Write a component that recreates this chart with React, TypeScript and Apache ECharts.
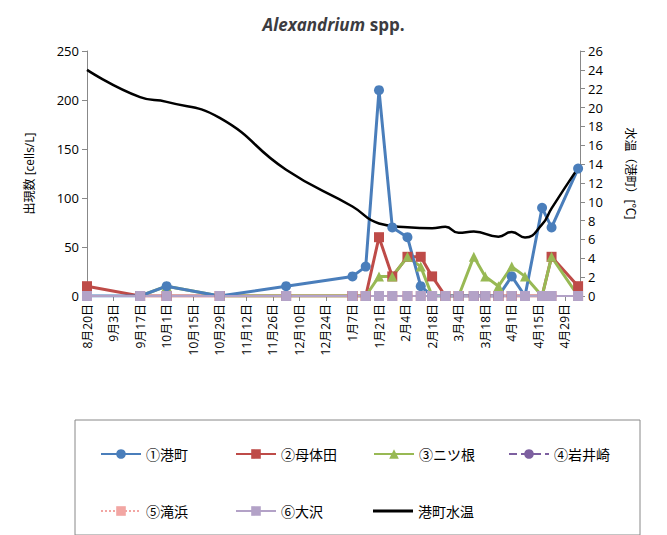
import { useEffect, useRef } from 'react'
import * as echarts from 'echarts'

// day offsets from 8/20 (sampling dates)
const DAYS = [0, 28, 42, 70, 105, 140, 147, 154, 161, 169, 176, 182, 189, 196, 204, 210, 217, 224, 231, 240, 245, 259]
const MINATOMACHI = [0, 0, 10, 0, 10, 20, 30, 210, 70, 60, 10, 0, 0, 0, 0, 0, 0, 20, 0, 90, 70, 130]
const BOTAIDA = [10, 0, 0, 0, 0, 0, 0, 60, 20, 40, 40, 20, 0, 0, 0, 0, 0, 0, 0, 0, 40, 10]
const FUTATSUNE = [null, 0, 10, 0, 0, 0, 0, 20, 20, 40, 30, 0, 0, 0, 40, 20, 10, 30, 20, 0, 40, 0]
const ZEROS = DAYS.map(() => 0)
const TEMP_DAYS = [0, 28, 42, 70, 105, 140, 154, 169, 182, 189, 196, 204, 217, 224, 231, 240, 245, 259]
const TEMP = [24.0, 21.1, 20.6, 18.9, 13.4, 9.5, 7.7, 7.3, 7.2, 7.35, 6.7, 6.85, 6.3, 6.8, 6.2, 7.6, 9.3, 13.6]

const pair = (ys: (number | null)[], xs = DAYS) => xs.map((d, i) => [d, ys[i]])

const FONT = '"Open Sans", "Noto Sans CJK JP", sans-serif'

export default function App() {
  const ref = useRef<HTMLDivElement>(null)
  useEffect(() => {
    if (!ref.current) return
    const chart = echarts.init(ref.current, undefined, { renderer: 'svg' })
    const base = new Date(2012, 7, 20)
    const fmt = (v: number) => {
      const d = new Date(base.getTime()); d.setDate(d.getDate() + v)
      return (d.getMonth() + 1) + '月' + d.getDate() + '日'
    }
    const line = (name: string, data: any[], color: string, symbol: string, extra: any = {}) => ({
      name, type: 'line', data, symbol, symbolSize: 10, connectNulls: false,
      lineStyle: { color, width: 3 }, itemStyle: { color }, ...extra,
    })
    const legendItem = (name: any, left: number, top: number) => ({
      data: [name], left, top, itemWidth: 40, itemHeight: 12,
      textStyle: { fontSize: 14, fontFamily: FONT, color: '#000' },
    })
    chart.setOption({
      animation: false,
      textStyle: { fontFamily: FONT },
      title: {
        text: '{i|Alexandrium} {b|spp.}', left: 'center', top: 2,
        textStyle: { rich: {
          i: { fontStyle: 'italic', fontWeight: 'bold', fontSize: 17, fontFamily: FONT },
          b: { fontWeight: 'bold', fontSize: 17, fontFamily: FONT },
        } },
      },
      grid: { left: 79, right: 79, top: 43, bottom: 239 },
      xAxis: {
        type: 'value', min: 0, max: 260, interval: 14,
        axisLine: { lineStyle: { color: '#888' } },
        axisTick: { show: true, lineStyle: { color: '#888' } },
        splitLine: { show: false },
        axisLabel: { rotate: 90, formatter: fmt, showMaxLabel: false, fontSize: 12, color: '#000' },
      },
      yAxis: [
        {
          type: 'value', min: 0, max: 250, interval: 50,
          name: '出現数 [cells/L]', nameLocation: 'middle', nameGap: 52, nameRotate: 90,
          nameTextStyle: { fontSize: 12, color: '#000' },
          axisLine: { show: true, lineStyle: { color: '#888' } },
          axisTick: { show: true, lineStyle: { color: '#888' } },
          splitLine: { show: false },
          axisLabel: { fontSize: 13, color: '#000' },
        },
        {
          type: 'value', min: 0, max: 26, interval: 2,
          name: '水温（港町）[℃]', nameLocation: 'middle', nameGap: 44, nameRotate: -90,
          nameTextStyle: { fontSize: 12, color: '#000' },
          axisLine: { show: true, lineStyle: { color: '#888' } },
          axisTick: { show: true, lineStyle: { color: '#888' } },
          splitLine: { show: false },
          axisLabel: { fontSize: 13, color: '#000' },
        },
      ],
      legend: [
        legendItem('①港町', 87, 434),
        legendItem('②母体田', 222, 434),
        legendItem('③ニツ根', 360, 434),
        legendItem('④岩井崎', 495, 434),
        legendItem('⑤滝浜', 87, 491),
        legendItem('⑥大沢', 222, 491),
        legendItem({ name: '港町水温', icon: 'path://M0,0 L40,0 L40,3 L0,3 Z' }, 360, 491),
      ],
      graphic: [{
        type: 'rect', shape: { x: 67, y: 412, width: 565, height: 115 },
        style: { fill: 'none', stroke: '#888', lineWidth: 1 },
      }],
      series: [
        line('④岩井崎', pair(ZEROS), '#7d60a0', 'circle', { lineStyle: { color: '#7d60a0', width: 2, type: 'dashed' } }),
        line('⑤滝浜', pair(ZEROS), '#f2a6a3', 'rect', { lineStyle: { color: '#f2a6a3', width: 2, type: 'dotted' } }),
        line('②母体田', pair(BOTAIDA), '#be4b48', 'rect'),
        line('③ニツ根', pair(FUTATSUNE), '#98b954', 'triangle'),
        line('①港町', pair(MINATOMACHI), '#4a7ebb', 'circle'),
        line('⑥大沢', pair(ZEROS), '#b3a2c7', 'rect', { lineStyle: { color: '#b3a2c7', width: 2 } }),
        {
          name: '港町水温', type: 'line', yAxisIndex: 1, data: pair(TEMP, TEMP_DAYS),
          smooth: 0.5, symbol: 'none', lineStyle: { color: '#000', width: 2.5 }, itemStyle: { color: '#000' },
        },
      ],
    })
    return () => chart.dispose()
  }, [])
  return <div ref={ref} style={{ width: 651, height: 527 }} />
}
